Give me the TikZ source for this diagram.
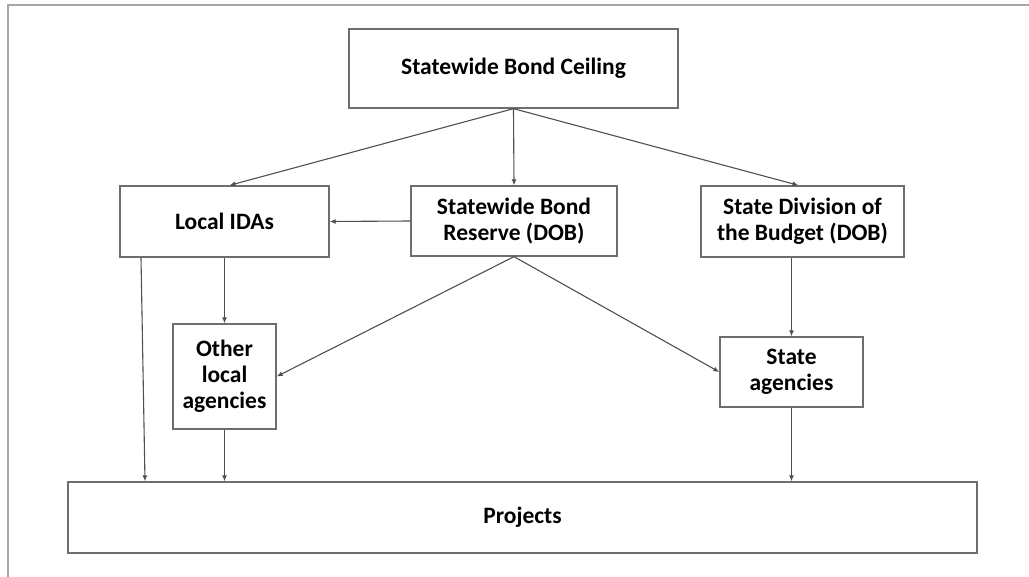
\documentclass[tikz,border=0pt]{standalone}
\usepackage{fontspec}
\setmainfont{Carlito}
\usetikzlibrary{arrows.meta,positioning,calc}
\definecolor{boxgray}{RGB}{110,110,110}
\definecolor{linegray}{RGB}{80,80,80}
\tikzset{
  box/.style={draw=boxgray,line width=1.3pt,rectangle,inner sep=0pt,align=center,
    font=\fontsize{23.5}{26}\selectfont\bfseries},
  arr/.style={draw=linegray,line width=1.1pt,-{Latex[length=6pt,width=5pt]}}
}
\begin{document}
\begin{tikzpicture}[x=1pt,y=-1pt]

                % Frame and bounding box.
                \useasboundingbox (0,0) rectangle (1029,577);
                \fill[white] (0,0) rectangle (1029,577);
                \draw[gray!70,line width=1.5pt] (8,577) -- (8,5) -- (1029,5);

                % Boxes.
                \node[box,minimum width=329pt,minimum height=79pt] (ceiling) at (513.5,68.5) {Statewide Bond Ceiling};
                \node[box,minimum width=209pt,minimum height=71pt] (ida) at (224.5,221.5) {Local IDAs};
                \node[box,minimum width=206pt,minimum height=70pt] (reserve) at (514,221) {Statewide Bond\\Reserve (DOB)};
                \node[box,minimum width=203pt,minimum height=71pt] (dob) at (802.5,221.5) {State Division of\\the Budget (DOB)};
                \node[box,minimum width=103pt,minimum height=105pt] (other) at (224.5,376.5) {Other\\local\\agencies};
                \node[box,minimum width=143pt,minimum height=70pt] (agencies) at (791.5,372) {State\\agencies};
                \node[box,minimum width=909pt,minimum height=71pt] (projects) at (522.5,517.5) {Projects};

                % Arrows from the ceiling.
                \draw[arr] (ceiling.south) -- ([xshift=5pt]ida.north);
                \draw[arr] (ceiling.south) -- (reserve.north);
                \draw[arr] (ceiling.south) -- ([xshift=-4pt]dob.north);

                % Arrows from the reserve.
                \draw[arr] (reserve.west) -- (ida.east);
                \draw[arr] (reserve.south) -- (other.east);
                \draw[arr] (reserve.south) -- (agencies.west);

                % Arrows down to the projects.
                \draw[arr] (ida.south) -- (other.north);
                \draw[arr] ([xshift=-83.5pt]ida.south) -- ([xshift=-377.5pt]projects.north);
                \draw[arr] (other.south) -- (other.south |- projects.north);
                \draw[arr] (agencies.north |- dob.south) -- (agencies.north);
                \draw[arr] (agencies.south) -- (agencies.south |- projects.north);
\end{tikzpicture}
\end{document}
